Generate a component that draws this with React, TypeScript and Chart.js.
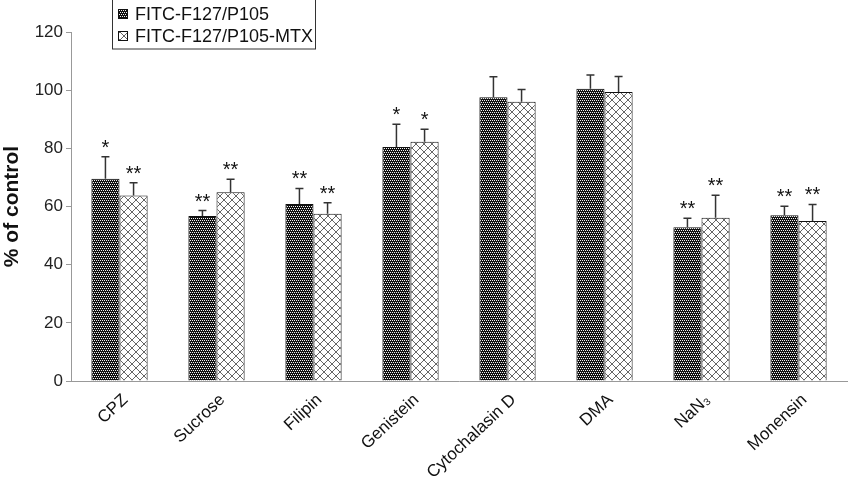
import React, { useEffect, useRef } from 'react';
import { Chart, registerables } from 'chart.js';

Chart.register(...registerables);

const categories = ['CPZ', 'Sucrose', 'Filipin', 'Genistein', 'Cytochalasin D', 'DMA', 'NaN₃', 'Monensin'];
const seriesNames = ['FITC-F127/P105', 'FITC-F127/P105-MTX'];
const f127Values = [69.5, 56.7, 60.9, 80.5, 97.6, 100.5, 52.9, 57.0];
const f127Errors = [7.6, 1.9, 5.3, 7.8, 7.0, 4.7, 3.1, 3.1];
const mtxValues = [63.8, 64.9, 57.5, 82.3, 96.0, 99.4, 56.1, 55.0];
const mtxErrors = [4.4, 4.5, 3.8, 4.3, 4.2, 5.3, 7.8, 5.7];
const f127Stars = ['*', '**', '**', '*', '', '', '**', '**'];
const mtxStars = ['**', '**', '**', '*', '', '', '**', '**'];
const yMin = 0;
const yMax = 120;
const yStep = 20;

const FONT = 'Arial, "Liberation Sans", Helvetica, sans-serif';

function darkPattern(ctx: CanvasRenderingContext2D): CanvasPattern | string {
  const c = document.createElement('canvas');
  c.width = 4;
  c.height = 4;
  const g = c.getContext('2d');
  if (!g) return '#222';
  g.fillStyle = '#111';
  g.fillRect(0, 0, 4, 4);
  g.fillStyle = '#f4f4f4';
  g.fillRect(0, 0, 1, 1);
  g.fillRect(2, 0, 1, 1);
  g.fillRect(1, 2, 1, 1);
  g.fillRect(3, 2, 1, 1);
  return ctx.createPattern(c, 'repeat') || '#222';
}

function lightPattern(ctx: CanvasRenderingContext2D): CanvasPattern | string {
  const c = document.createElement('canvas');
  c.width = 8;
  c.height = 8;
  const g = c.getContext('2d');
  if (!g) return '#fff';
  g.fillStyle = '#ffffff';
  g.fillRect(0, 0, 8, 8);
  g.strokeStyle = '#666';
  g.lineWidth = 1;
  g.beginPath();
  g.moveTo(0, 0);
  g.lineTo(8, 8);
  g.moveTo(8, 0);
  g.lineTo(0, 8);
  g.stroke();
  return ctx.createPattern(c, 'repeat') || '#fff';
}

export default function App() {
  const ref = useRef<HTMLCanvasElement | null>(null);

  useEffect(() => {
    document.body.style.margin = '0';
    const canvas = ref.current;
    if (!canvas) return;
    const ctx = canvas.getContext('2d');
    if (!ctx) return;
    const pDark = darkPattern(ctx);
    const pLight = lightPattern(ctx);
    const values = [f127Values, mtxValues];
    const errors = [f127Errors, mtxErrors];
    const stars = [f127Stars, mtxStars];
    const patterns = [pDark, pLight];

    const errorPlugin = {
      id: 'errorsAndStars',
      afterDatasetsDraw(chart: any) {
        const c = chart.ctx as CanvasRenderingContext2D;
        const y = chart.scales.y;
        c.save();
        for (let d = 0; d < 2; d++) {
          const meta = chart.getDatasetMeta(d);
          meta.data.forEach((bar: any, j: number) => {
            const top = y.getPixelForValue(values[d][j] + errors[d][j]);
            const base = bar.y;
            c.strokeStyle = '#333';
            c.lineWidth = 1.5;
            c.beginPath();
            c.moveTo(bar.x, base);
            c.lineTo(bar.x, top);
            c.moveTo(bar.x - 4, top);
            c.lineTo(bar.x + 4, top);
            c.stroke();
            const s = stars[d][j];
            if (s) {
              c.fillStyle = '#111';
              c.font = `20px ${FONT}`;
              c.textAlign = 'center';
              c.textBaseline = 'alphabetic';
              c.fillText(s, bar.x, top - 3);
            }
          });
        }
        c.restore();
      },
      afterDraw(chart: any) {
        const c = chart.ctx as CanvasRenderingContext2D;
        c.save();
        c.strokeStyle = '#333';
        c.lineWidth = 1;
        c.strokeRect(112.5, -1, 203, 50);
        c.font = `18px ${FONT}`;
        c.textAlign = 'left';
        c.textBaseline = 'middle';
        const rows = [14, 36];
        for (let i = 0; i < 2; i++) {
          c.fillStyle = patterns[i] as any;
          c.fillRect(118, rows[i] - 5, 10, 10);
          c.strokeStyle = '#111';
          c.strokeRect(118.5, rows[i] - 4.5, 9, 9);
          c.fillStyle = '#111';
          c.fillText(seriesNames[i], 135, rows[i] + 1);
        }
        c.restore();
      },
    };

    const chart = new Chart(canvas, {
      type: 'bar',
      data: {
        labels: categories,
        datasets: [0, 1].map((d) => ({
          label: seriesNames[d],
          data: values[d],
          backgroundColor: patterns[d] as any,
          borderColor: '#111',
          borderWidth: 1,
          categoryPercentage: 0.58,
          barPercentage: 1.0,
        })),
      },
      options: {
        animation: false,
        responsive: false,
        devicePixelRatio: 1,
        layout: { padding: { top: 32, right: 3, bottom: 0, left: 0 } },
        plugins: {
          legend: { display: false },
          tooltip: { enabled: false },
        },
        scales: {
          x: {
            offset: true,
            grid: { display: false },
            border: { display: true, color: '#999', width: 1 },
            ticks: {
              autoSkip: false,
              maxRotation: 43,
              minRotation: 43,
              color: '#111',
              font: { family: FONT, size: 17 },
              padding: 1,
              labelOffset: 6,
            },
            afterFit: (s: any) => {
              s.height = 103;
            },
          },
          y: {
            min: yMin,
            max: yMax,
            ticks: {
              stepSize: yStep,
              color: '#222',
              font: { family: FONT, size: 17 },
              padding: 3,
            },
            grid: {
              display: true,
              drawOnChartArea: false,
              drawTicks: true,
              tickLength: 5,
              color: '#999',
            },
            border: { display: true, color: '#999', width: 1 },
            title: {
              display: true,
              text: '% of control',
              color: '#111',
              font: { family: FONT, size: 21, weight: 'bold' },
              padding: 0,
            },
            afterFit: (s: any) => {
              s.width = 71;
            },
          },
        },
      },
      plugins: [errorPlugin],
    });
    return () => chart.destroy();
  }, []);

  return (
    <div style={{ width: 850, height: 484, position: 'relative', background: '#fff' }}>
      <canvas ref={ref} width={850} height={484} style={{ width: 850, height: 484, display: 'block' }} />
    </div>
  );
}
